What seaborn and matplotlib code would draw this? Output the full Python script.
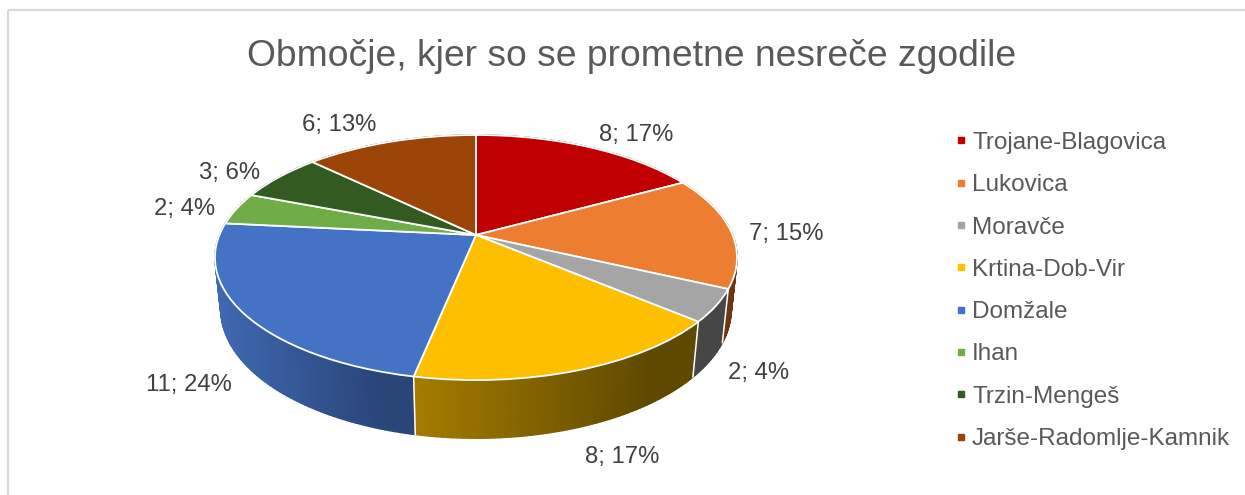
import numpy as np
import matplotlib
matplotlib.use('Agg')
import matplotlib.pyplot as plt
import matplotlib.transforms as mtransforms
from matplotlib.collections import PolyCollection
from matplotlib.lines import Line2D
from matplotlib.patches import Rectangle
import seaborn as sns

title = 'Območje, kjer so se prometne nesreče zgodile'
areas = ['Trojane-Blagovica', 'Lukovica', 'Moravče', 'Krtina-Dob-Vir',
         'Domžale', 'Ihan', 'Trzin-Mengeš', 'Jarše-Radomlje-Kamnik']
counts = [8, 7, 2, 8, 11, 2, 3, 6]
percents = [17, 15, 4, 17, 24, 4, 6, 13]

# layout and styling
colors = ['#C00000', '#ED7D31', '#A5A5A5', '#FDBF00',
          '#4472C4', '#70AD47', '#335A20', '#9C4509']
wall_left = ['#600000', '#7A3D12', '#464646', '#A67C00',
             '#3F69B3', '#3A5A25', '#1C3010', '#50240A']
wall_right = ['#600000', '#6E360F', '#464646', '#5F4900',
              '#2A4578', '#3A5A25', '#1C3010', '#50240A']
label_pos = [(636, 135), (786, 234), (759, 373), (622, 457),
             (188.5, 385), (185, 209), (230, 173), (339, 125)]


class Perspective(mtransforms.Transform):
    """Unit circle in the table plane to picture pixels."""
    input_dims = 2
    output_dims = 2

    def __init__(self, drop=0.0, shrink=0.0):
        super().__init__()
        self.drop = drop
        self.shrink = shrink

    def transform_non_affine(self, values):
        values = np.asarray(values, dtype=float)
        w = 1 + 0.1837 * values[:, 1] + self.shrink
        x = 476 + 256.6 * values[:, 0] / w
        y = 235 - (118.4 * values[:, 1] - self.drop) / w
        return np.column_stack([x, y])


def rim(theta):
    return np.column_stack([np.sin(theta), np.cos(theta)])


sns.set_theme(style='white')
plt.rcParams['font.family'] = ['Liberation Sans', 'DejaVu Sans']

fig = plt.figure(figsize=(12.45, 4.95), dpi=100)
ax = fig.add_axes([0, 0, 1, 1])

top = Perspective()
bottom = Perspective(drop=52, shrink=0.022)

# side wall, one thin strip per step, back to front
edges = np.cumsum([0] + counts) / sum(counts) * 2 * np.pi
strips, strip_colors = [], []
for i in range(len(counts)):
    th = np.linspace(edges[i], edges[i + 1], max(int(np.degrees(edges[i + 1] - edges[i])), 2) + 1)
    up = top.transform(rim(th))
    down = bottom.transform(rim(th))
    left, right = sns.color_palette([wall_left[i], wall_right[i]])
    span = max(up[:, 0].max() - up[:, 0].min(), 1)
    for j in range(len(th) - 1):
        strips.append(np.vstack([up[j], up[j + 1], down[j + 1], down[j]]))
        t = min((up[j:j + 2, 0].mean() - up[:, 0].min()) / span * 1.2, 1)
        strip_colors.append(tuple(np.array(left) * (1 - t) + np.array(right) * t))
order = np.argsort([s[0, 1] for s in strips])
walls = PolyCollection([strips[k] for k in order],
                       facecolors=[strip_colors[k] for k in order],
                       edgecolors='face', linewidths=1.0, zorder=1)
ax.add_collection(walls)

# white seams between the walls
for e in edges[:-1]:
    a = top.transform(rim(np.array([e])))[0]
    b = bottom.transform(rim(np.array([e])))[0]
    ax.plot([a[0], b[0]], [a[1], b[1]], color='white', lw=1.1, zorder=2)

# top face
wedges, _ = ax.pie(counts, colors=sns.color_palette(colors), startangle=90, counterclock=False,
                   radius=1, wedgeprops={'edgecolor': 'white', 'linewidth': 1.3, 'zorder': 3})
for w in wedges:
    w.set_transform(top + ax.transData)

ax.set_aspect('auto')
ax.set_xlim(0, 1245)
ax.set_ylim(495, 0)
ax.axis('off')

# chart border, open on the right and at the bottom
ax.add_patch(Rectangle((7.5, 10), 1300, 600, fill=False, edgecolor='#D9D9D9', lw=1.5, zorder=0))

ax.text(631.5, 56, title, ha='center', va='center', fontsize=26.85, color='#595959')

for c, p, (x, y) in zip(counts, percents, label_pos):
    ax.text(x, y, f'{c}; {p}%', ha='center', va='center', fontsize=17.2, color='#404040')

handles = [Line2D([], [], marker='s', ls='none', color=c, ms=5) for c in colors]
ax.legend(handles, areas, loc='upper left', bbox_to_anchor=(930.7, 110), bbox_transform=ax.transData,
          frameon=False, fontsize=17.5, labelcolor='#595959', labelspacing=0.835,
          handlelength=0.7, handletextpad=0.1, borderpad=0.4)

fig.savefig('out.png', dpi=100)
